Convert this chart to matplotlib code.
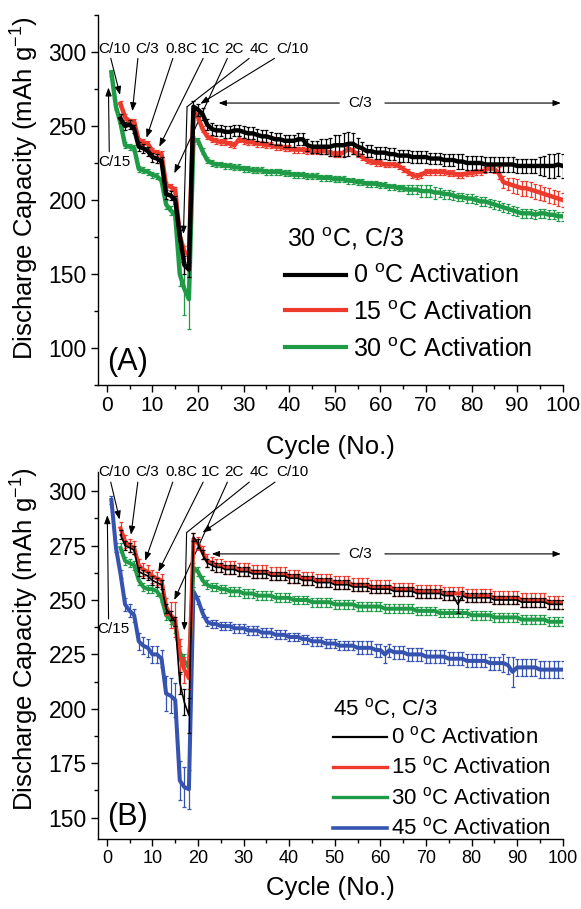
import matplotlib
matplotlib.use('Agg')
import matplotlib.pyplot as plt
from matplotlib.ticker import MultipleLocator
from matplotlib.lines import Line2D

plt.rcParams['font.family'] = ['Liberation Sans', 'DejaVu Sans']
plt.rcParams['mathtext.default'] = 'regular'

# ---------------- data: panel A (30 C, C/3) ----------------
cycles_a_30 = list(range(1, 101))
cap_a_30 = [286, 263, 252, 237, 236, 235, 221, 220, 219, 217,
            216, 213, 197, 193, 190, 150, 140, 133, 241, 240,
            233, 227, 225, 224, 224, 223, 223, 222, 222, 221,
            221, 220, 220, 220, 219, 219, 219, 219, 218, 218,
            217, 217, 217, 216, 216, 216, 215, 215, 215, 214,
            214, 214, 213, 213, 212, 212, 211, 211, 211, 210,
            210, 209, 209, 208, 208, 207, 207, 207, 206, 206,
            206, 205, 205, 204, 204, 203, 202, 202, 201, 201,
            200, 199, 199, 198, 197, 196, 195, 194, 193, 192,
            191, 191, 191, 190, 191, 191, 190, 190, 189, 189]
err_a_30 = [2, 2, 2, 2, 2, 2, 2, 2, 2, 2,
            2, 2, 3, 3, 3, 8, 18, 20, 2, 2,
            2, 2, 2, 2, 2, 2, 2, 2, 2, 2,
            2, 2, 2, 2, 2, 2, 2, 2, 2, 2,
            2, 2, 2, 2, 2, 2, 2, 2, 2, 2,
            2, 2, 2, 2, 2, 2, 2, 2, 2, 2,
            2, 2, 2, 2, 2, 3, 3, 3, 4, 4,
            4, 4, 3, 3, 3, 3, 3, 3, 3, 3,
            3, 3, 3, 3, 3, 3, 3, 3, 3, 3,
            3, 3, 3, 3, 3, 3, 3, 3, 3, 3]

cycles_a_15 = list(range(3, 101))
cap_a_15 = [265, 256, 253, 253, 240, 239, 238, 233, 232, 231,
            210, 209, 207, 176, 165, 163, 260, 256, 248, 243,
            241, 240, 239, 239, 238, 237, 241, 240, 239, 239,
            238, 238, 237, 237, 236, 236, 235, 235, 234, 234,
            234, 233, 233, 233, 233, 233, 232, 231, 231, 232,
            235, 233, 231, 229, 227, 226, 225, 225, 224, 224,
            224, 223, 221, 219, 217, 216, 217, 219, 219, 219,
            219, 219, 218, 218, 217, 217, 218, 218, 219, 219,
            220, 222, 221, 218, 212, 211, 210, 209, 208, 208,
            207, 206, 205, 204, 203, 202, 201, 200]
err_a_15 = [2, 2, 2, 2, 2, 2, 2, 2, 2, 2,
            2, 2, 2, 4, 4, 4, 2, 2, 2, 2,
            2, 2, 2, 2, 2, 2, 2, 2, 2, 2,
            2, 2, 2, 2, 2, 2, 2, 2, 2, 2,
            2, 2, 2, 2, 2, 2, 2, 2, 2, 2,
            2, 2, 2, 2, 2, 2, 2, 2, 2, 2,
            2, 2, 2, 2, 2, 2, 2, 2, 2, 2,
            2, 2, 2, 2, 2, 2, 2, 2, 2, 2,
            2, 2, 3, 4, 4, 4, 5, 5, 5, 5,
            5, 5, 5, 5, 5, 5, 5, 5]

cycles_a_0 = list(range(3, 101))
cap_a_0 = [255, 250, 251, 248, 236, 235, 233, 229, 228, 226,
           204, 203, 200, 176, 156, 153, 263, 261, 258, 251,
           248, 247, 247, 246, 246, 247, 247, 246, 245, 245,
           244, 243, 243, 242, 241, 241, 240, 240, 240, 241,
           241, 237, 236, 236, 236, 236, 236, 237, 237, 237,
           238, 238, 236, 235, 233, 233, 232, 232, 232, 231,
           231, 230, 230, 230, 229, 229, 229, 229, 228, 228,
           228, 227, 227, 227, 226, 226, 225, 225, 225, 225,
           224, 224, 224, 224, 224, 224, 224, 223, 223, 223,
           223, 223, 223, 223, 223, 223, 224, 223]
err_a_0 = [3, 3, 3, 3, 3, 3, 3, 3, 3, 3,
           3, 3, 3, 4, 6, 5, 4, 4, 4, 4,
           4, 4, 4, 4, 4, 4, 4, 4, 4, 4,
           4, 4, 4, 4, 4, 4, 4, 4, 4, 4,
           4, 4, 4, 4, 5, 5, 6, 7, 7, 8,
           8, 7, 6, 4, 4, 4, 4, 4, 4, 4,
           4, 4, 4, 4, 4, 4, 4, 4, 4, 4,
           4, 4, 4, 4, 5, 5, 5, 5, 5, 5,
           5, 5, 5, 5, 5, 5, 5, 5, 5, 5,
           5, 5, 6, 7, 8, 8, 8, 8]

# ---------------- data: panel B (45 C, C/3) ----------------
cycles_b_45 = list(range(1, 101))
cap_b_45 = [296, 274, 262, 248, 245, 243, 231, 229, 228, 225,
            225, 223, 207, 206, 204, 167, 164, 163, 254, 250,
            244, 240, 239, 239, 238, 238, 238, 237, 237, 237,
            236, 236, 236, 235, 235, 235, 234, 234, 234, 233,
            233, 233, 232, 232, 231, 231, 231, 230, 230, 230,
            229, 229, 229, 229, 228, 228, 228, 228, 227, 227,
            225, 227, 226, 226, 226, 225, 225, 225, 225, 224,
            224, 224, 224, 224, 223, 223, 223, 223, 222, 222,
            222, 222, 222, 221, 221, 221, 221, 220, 217, 219,
            219, 219, 219, 219, 218, 218, 218, 218, 218, 218]
err_b_45 = [2, 2, 2, 3, 3, 3, 4, 4, 4, 4,
            4, 4, 8, 8, 8, 9, 9, 9, 2, 2,
            2, 2, 2, 2, 2, 2, 2, 2, 2, 2,
            2, 2, 2, 2, 2, 2, 2, 2, 2, 2,
            2, 2, 2, 2, 2, 2, 2, 2, 2, 2,
            2, 2, 2, 2, 3, 3, 3, 3, 3, 3,
            4, 3, 3, 3, 3, 3, 3, 3, 3, 3,
            3, 3, 3, 3, 3, 3, 3, 3, 3, 3,
            3, 3, 3, 3, 3, 3, 4, 4, 7, 4,
            4, 4, 4, 4, 4, 4, 4, 4, 4, 4]

cycles_b_30 = list(range(3, 101))
cap_b_30 = [274, 268, 267, 266, 259, 256, 255, 255, 254, 251,
            243, 241, 238, 226, 222, 219, 265, 263, 259, 257,
            256, 256, 255, 255, 254, 254, 254, 253, 253, 253,
            252, 252, 252, 252, 251, 251, 251, 251, 250, 250,
            250, 250, 249, 249, 249, 249, 249, 248, 248, 248,
            248, 248, 247, 247, 247, 247, 247, 247, 246, 246,
            246, 246, 246, 246, 246, 245, 245, 245, 245, 245,
            244, 244, 244, 244, 244, 244, 244, 243, 243, 243,
            243, 243, 242, 242, 242, 242, 242, 242, 241, 241,
            241, 241, 241, 241, 240, 240, 240, 240]
err_b_30 = [2] * 0 + [2, 2, 2, 2, 2, 2, 2, 2, 2, 2,
                      2, 2, 3, 3, 3, 2, 2, 2, 2, 2,
                      2, 2, 2, 2, 2, 2, 2, 2, 2, 2,
                      2, 2, 2, 2, 2, 2, 2, 2, 2, 2,
                      2, 2, 2, 2, 2, 2, 2, 2, 2, 2,
                      2, 2, 2, 2, 2, 2, 2, 2, 2, 2,
                      2, 2, 2, 2, 2, 2, 2, 2, 2, 2,
                      2, 2, 2, 2, 2, 2, 2, 2, 2, 2,
                      2, 2, 2, 2, 2, 2, 2, 2, 2, 2,
                      2, 2, 2, 2, 2, 2, 2, 2]

cycles_b_15 = list(range(3, 101))
cap_b_15 = [283, 277, 275, 274, 266, 264, 263, 261, 260, 259,
            247, 243, 241, 224, 218, 214, 278, 276, 272, 268,
            267, 266, 266, 265, 265, 265, 264, 264, 264, 263,
            263, 263, 263, 262, 262, 262, 262, 261, 261, 261,
            260, 260, 260, 259, 259, 259, 259, 258, 258, 258,
            258, 257, 257, 257, 257, 256, 256, 256, 256, 256,
            255, 255, 255, 255, 255, 254, 254, 254, 254, 254,
            254, 253, 253, 253, 253, 253, 252, 252, 252, 252,
            252, 252, 251, 251, 251, 251, 251, 251, 250, 250,
            250, 250, 250, 250, 249, 249, 249, 249]
err_b_15 = [3, 3, 3, 3, 3, 3, 3, 3, 3, 3,
            4, 6, 8, 8, 6, 5, 3, 3, 3, 3,
            3, 3, 3, 3, 3, 3, 3, 3, 3, 3,
            3, 3, 3, 3, 3, 3, 3, 3, 3, 3,
            3, 3, 3, 3, 3, 3, 3, 3, 3, 3,
            3, 3, 3, 3, 3, 3, 3, 3, 3, 3,
            3, 3, 3, 3, 3, 3, 3, 3, 3, 3,
            3, 3, 3, 3, 3, 3, 3, 3, 3, 3,
            3, 3, 3, 3, 3, 3, 3, 3, 3, 3,
            3, 3, 3, 3, 3, 3, 3, 3]

cycles_b_0 = list(range(3, 101))
cap_b_0 = [280, 275, 274, 273, 263, 262, 261, 259, 258, 257,
           246, 243, 240, 212, 203, 197, 279, 276, 271, 267,
           266, 265, 265, 264, 264, 264, 263, 263, 263, 262,
           262, 262, 262, 261, 261, 261, 261, 260, 260, 260,
           259, 259, 259, 258, 258, 258, 258, 257, 257, 257,
           257, 256, 256, 256, 256, 255, 255, 255, 255, 255,
           254, 254, 254, 254, 254, 253, 253, 253, 253, 253,
           253, 252, 252, 252, 248, 252, 251, 251, 251, 251,
           251, 251, 250, 250, 250, 250, 250, 250, 249, 249,
           249, 249, 249, 249, 248, 248, 248, 248]
err_b_0 = [2, 2, 2, 2, 2, 2, 2, 2, 2, 2,
           2, 2, 2, 5, 6, 8, 2, 2, 2, 2,
           2, 2, 2, 2, 2, 2, 2, 2, 2, 2,
           2, 2, 2, 2, 2, 2, 2, 2, 2, 2,
           2, 2, 2, 2, 2, 2, 2, 2, 2, 2,
           2, 2, 2, 2, 2, 2, 2, 2, 2, 2,
           2, 2, 2, 2, 2, 2, 2, 2, 2, 2,
           2, 2, 2, 2, 4, 2, 2, 2, 2, 2,
           2, 2, 2, 2, 2, 2, 2, 2, 2, 2,
           2, 2, 2, 2, 2, 2, 2, 2]

# ---------------- labels ----------------
series_labels = ['0 $^o$C Activation', '15 $^o$C Activation',
                 '30 $^o$C Activation', '45 $^o$C Activation']
title_a = '30 $^o$C, C/3'
title_b = '45 $^o$C, C/3'
rate_labels = ['C/10', 'C/3', '0.8C', '1C', '2C', '4C', 'C/10']
xlabel = 'Cycle (No.)'
ylabel = 'Discharge Capacity (mAh g$^{-1}$)'

BLACK = '#000000'
RED = '#EE3A2C'
GREEN = '#1F9A47'
BLUE = '#3753B0'

fig = plt.figure(figsize=(5.81, 9.09), dpi=100)
axA = fig.add_axes([0.1682, 0.5765, 0.8003, 0.4070])
axB = fig.add_axes([0.1682, 0.0767, 0.8003, 0.4044])


def draw(ax, x, y, e, color, lw, z):
    ax.errorbar(x, y, yerr=e, fmt='none', ecolor=color, elinewidth=0.9,
                capsize=1.7, capthick=0.9, zorder=z)
    ax.plot(x, y, color=color, lw=lw, zorder=z + 0.5)


draw(axA, cycles_a_30, cap_a_30, err_a_30, GREEN, 3.2, 2)
draw(axA, cycles_a_15, cap_a_15, err_a_15, RED, 3.2, 3)
draw(axA, cycles_a_0, cap_a_0, err_a_0, BLACK, 3.2, 4)

draw(axB, cycles_b_45, cap_b_45, err_b_45, BLUE, 2.9, 2)
draw(axB, cycles_b_30, cap_b_30, err_b_30, GREEN, 2.9, 3)
draw(axB, cycles_b_15, cap_b_15, err_b_15, RED, 2.9, 4)
draw(axB, cycles_b_0, cap_b_0, err_b_0, BLACK, 1.2, 5)

# ---------------- axes styling ----------------
for ax, ylim, ymaj, ymin, xfs in ((axA, (75, 325), 50, 25, 15),
                                  (axB, (140, 309), 25, 12.5, 13)):
    ax.spines['top'].set_visible(False)
    ax.spines['right'].set_visible(False)
    for s in ('left', 'bottom'):
        ax.spines[s].set_linewidth(1.0)
    ax.set_xlim(-2, 100)
    ax.set_ylim(*ylim)
    ax.xaxis.set_major_locator(MultipleLocator(10))
    ax.xaxis.set_minor_locator(MultipleLocator(5))
    ax.yaxis.set_major_locator(MultipleLocator(ymaj))
    ax.yaxis.set_minor_locator(MultipleLocator(ymin))
    ax.tick_params(which='major', direction='out', length=5, width=1)
    ax.tick_params(which='minor', direction='out', length=3, width=1)
    ax.tick_params(axis='y', which='major', labelsize=16.5, pad=3)
    ax.tick_params(axis='x', which='major', labelsize=xfs, pad=3)
    ax.set_xlabel(xlabel, fontsize=18.5)
    ax.set_ylabel(ylabel, fontsize=18.5)

axA.xaxis.set_label_coords(0.5, -0.135)
axB.xaxis.set_label_coords(0.5, -0.100)
axA.yaxis.set_label_coords(-0.121, 0.532)
axB.yaxis.set_label_coords(-0.121, 0.546)

# ---------------- annotations ----------------
arrow = dict(arrowstyle='-|>,head_length=0.45,head_width=0.17',
             color='black', lw=0.8, shrinkA=0, shrinkB=0)


def rate_arrows(ax, ylab, label_x, tips, kink, c15_text, c15_tip, c3_y, c3_tip_left):
    fs = 11
    for i, (lbl, lx) in enumerate(zip(rate_labels, label_x)):
        if i == 5:
            ax.annotate(lbl, xy=kink[0], xytext=(lx, ylab), fontsize=fs,
                        ha='center', va='center', annotation_clip=False,
                        arrowprops=dict(arrowstyle='-', color='black', lw=0.8,
                                        relpos=(0.15, 0), shrinkA=0, shrinkB=0))
            ax.annotate('', xy=kink[1], xytext=kink[0], annotation_clip=False,
                        arrowprops=arrow)
        else:
            rp = [0.36, 0.13, 0.27, 0.18, 0.2, 0.15, 0.1][i]
            ax.annotate(lbl, xy=tips[i], xytext=(lx, ylab), fontsize=fs,
                        ha='center', va='center', annotation_clip=False,
                        arrowprops=dict(arrow, relpos=(rp, 0)))
    ax.annotate('C/15', xy=c15_tip, xytext=c15_text, fontsize=fs,
                ha='center', va='center', annotation_clip=False,
                arrowprops=dict(arrow, relpos=(0.35, 1)))
    ax.text(55.5, c3_y, 'C/3', fontsize=fs, ha='center', va='center')
    ax.annotate('', xy=(c3_tip_left, c3_y), xytext=(51.0, c3_y),
                arrowprops=arrow)
    ax.annotate('', xy=(99.6, c3_y), xytext=(61.0, c3_y),
                arrowprops=arrow, annotation_clip=False)


label_x = [1.7, 8.8, 16.3, 22.8, 28.0, 33.5, 40.6]
rate_arrows(axA, 302.3, label_x,
            [(2.9, 271), (5.6, 260), (8.7, 242), (11.5, 236), (14.8, 218), None, (20.5, 265)],
            [(17.6, 263), (16.8, 177)],
            (1.6, 226), (0.35, 276), 265.5, 24.5)
rate_arrows(axB, 308.7, label_x,
            [(2.8, 287), (5.3, 280), (8.4, 268), (11.3, 263), (14.8, 250), None, (21.0, 281)],
            [(17.5, 281), (17.0, 236)],
            (1.45, 236.8), (0.1, 289), 271.2, 23.0)

# ---------------- legends (manual) ----------------
def legend(ax, title, title_xy, x0, x1, xt, rows, fs):
    ax.text(title_xy[0], title_xy[1], title, transform=ax.transAxes,
            fontsize=fs, ha='left', va='baseline')
    for lbl, col, lw, yl, yt in rows:
        ax.add_line(Line2D([x0, x1], [yl, yl], transform=ax.transAxes,
                           color=col, lw=lw, clip_on=False))
        ax.text(xt, yt, lbl, transform=ax.transAxes, fontsize=fs,
                ha='left', va='baseline')


legend(axA, title_a, (0.406, 0.374), 0.403, 0.535, 0.550,
       [(series_labels[0], BLACK, 3.0, 0.297, 0.275),
        (series_labels[1], RED, 3.0, 0.203, 0.176),
        (series_labels[2], GREEN, 3.0, 0.1035, 0.0765)], 18)
legend(axB, title_b, (0.507, 0.338), 0.507, 0.6215, 0.631,
       [(series_labels[0], BLACK, 1.6, 0.279, 0.261),
        (series_labels[1], RED, 2.4, 0.1975, 0.178),
        (series_labels[2], GREEN, 2.4, 0.116, 0.095),
        (series_labels[3], BLUE, 2.6, 0.030, 0.012)], 16)

axA.text(0.064, 0.061, '(A)', transform=axA.transAxes, fontsize=22,
         ha='center', va='center')
axB.text(0.065, 0.061, '(B)', transform=axB.transAxes, fontsize=22,
         ha='center', va='center')

fig.savefig('out.png', dpi=100)
